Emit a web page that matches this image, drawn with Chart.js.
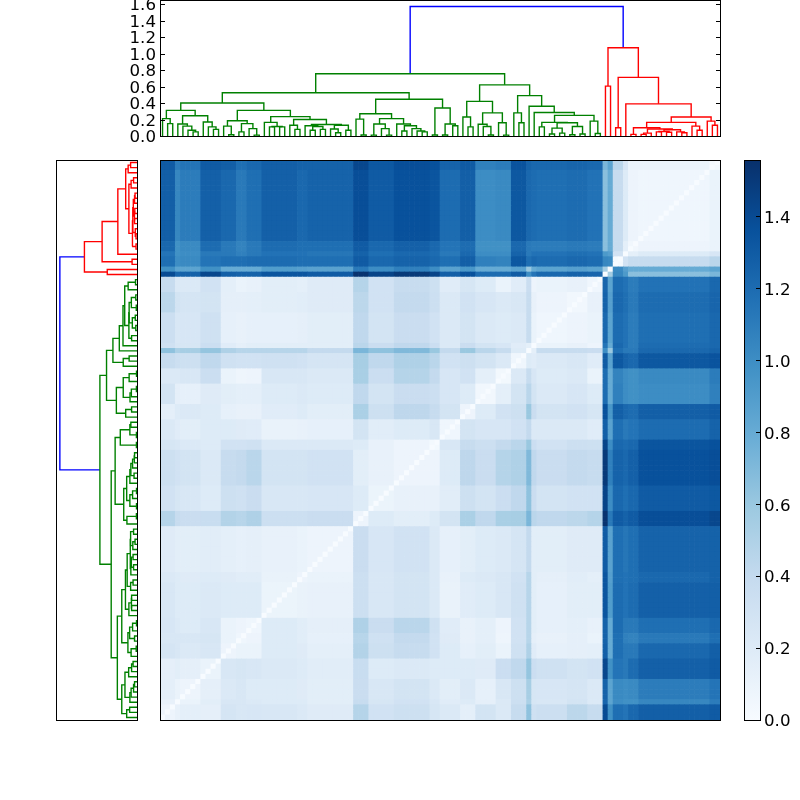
<!DOCTYPE html>
<html><head><meta charset="utf-8">
<style>
html,body{margin:0;padding:0;background:#fff;width:800px;height:800px;overflow:hidden}
.box{position:absolute}
canvas{display:block}
</style>
<script src="https://cdn.jsdelivr.net/npm/chart.js@4/dist/chart.umd.min.js"></script>
</head><body>
<div class="box" style="left:100px;top:-20px;width:625px;height:176px"><canvas id="top"></canvas></div>
<div class="box" style="left:50px;top:155px;width:92px;height:570px"><canvas id="left"></canvas></div>
<div class="box" style="left:155px;top:155px;width:570px;height:570px"><canvas id="heat"></canvas></div>
<div class="box" style="left:730px;top:140px;width:70px;height:600px"><canvas id="bar"></canvas></div>
<script>
// ---------- values ----------
const leafCount = 110;
const rootHeight = 1.57;
const heightAxisMax = 1.6485;
const heightTicks = [0, 0.2, 0.4, 0.6, 0.8, 1.0, 1.2, 1.4, 1.6];
const colorTicks = [0, 0.2, 0.4, 0.6, 0.8, 1.0, 1.2, 1.4];
const colorMax = 1.557;
const blues = ['#f7fbff','#deebf7','#c6dbef','#9ecae1','#6baed6','#4292c6','#2171b5','#08519c','#08306b'];

// merge trees: [height, left, right], 0 = a leaf
const greenTree = [.755,
 [.525,
  [.40,
   [.31,
    [.21,0,[.15,0,0]],
    [.245,[.145,0,[.12,0,[.07,0,[.05,0,0]]]],[.17,0,[.11,0,[.08,0,0]]]]],
   [.31,
    [.185,[.12,0,[.016,0,0]],[.15,[.05,0,0],[.09,0,[.01,0,0]]]],
    [.235,
     [.165,0,[.115,[.11,0,0],[.11,0,0]]],
     [.2,[.13,0,[.08,0,0]],
      [.14,[.125,0,[.115,[.07,0,0],[.08,0,0]]],[.13,[.085,0,[.04,0,0]],[.07,0,0]]]]]]],
  [.445,
   [.27,
    [.205,0,[.012,0,0]],
    [.21,
     [.145,[.01,0,0],[.09,0,[.01,0,0]]],
     [.145,0,[.125,[.06,0,0],[.09,0,[.06,0,[.05,0,0]]]]]]],
   [.34,[.012,0,0],[.145,[.012,0,0],[.125,0,0]]]]],
 [.62,
  [.42,
   [.23,0,[.11,0,0]],
   [.28,[.142,0,[.115,0,[.012,0,0]]],[.16,0,[.01,0,0]]]],
  [.49,
   [.28,0,[.16,0,0]],
   [.36,0,[.285,0,[.25,
     [.165,[.11,0,0],[.16,[.095,[.025,0,0],[.035,0,0]],[.115,[.015,0,0],[.025,0,0]]]],
     [.18,0,[.03,0,0]]]]]]]];
const redTree = [1.07,[.605,0,0],[.71,[.1,0,0],[.39,0,[.23,
  [.165,
   [.1,[.02,0,0],[.085,[.035,[.02,0,0],0],[.075,[.055,[.05,0,0],[.045,0,0]],[.05,0,[.04,0,0]]]]],
   [.12,0,[.07,0,0]]],
  [.18,0,[.13,0,0]]]]]];

// first leaf of each block of the distance matrix
const blockStarts = [0,3,4,8,12,15,17,20,27,29,38,41,46,53,55,59,62,66,69,72,73,74,80,84,87,88,89,91,92,94,108];
// block-to-block distances ×100, lower triangle
const blockDist = [
[8],
[12,5],
[15,10,8],
[14,16,14,10],
[27,24,22,24,8],
[24,24,24,26,10,6],
[25,22,20,24,10,8,6],
[24,20,20,22,20,20,20,9],
[22,20,19,20,19,17,17,11,8],
[19,16,16,17,15,13,14,12,10,8],
[47,38,36,37,48,46,50,34,34,36,8],
[30,26,24,20,33,32,36,24,24,25,20,9],
[33,30,28,22,38,40,45,28,28,30,16,12,8],
[26,24,22,20,30,30,32,22,22,22,20,12,8,3],
[22,18,16,20,20,19,18,11,12,13,28,17,20,24,6],
[15,20,22,20,13,12,12,18,20,16,52,33,43,38,28,8],
[28,14,13,19,16,15,15,20,22,20,42,28,36,34,25,20,5],
[22,22,24,35,10,7,8,24,24,22,53,35,47,40,25,30,15,4],
[38,34,33,42,32,30,30,32,30,27,54,42,50,45,30,33,28,22,6],
[64,52,54,62,50,46,46,46,46,40,72,64,70,60,40,60,45,38,20,0],
[32,26,26,35,18,14,16,16,16,16,45,36,42,35,22,36,28,25,18,15,3],
[34,24,25,32,13,12,13,13,14,16,42,28,36,30,22,28,22,20,22,38,10,6],
[44,28,27,28,14,14,15,16,17,19,44,30,40,34,22,30,25,22,24,38,12,8,5],
[38,22,22,30,15,10,12,16,15,19,47,30,38,33,18,26,20,10,18,36,8,10,12,6],
[140,124,126,142,128,126,126,134,134,130,154,144,150,144,128,136,120,120,130,100,115,122,126,124,0],
[98,85,85,98,80,80,80,90,88,86,112,100,108,100,86,94,80,80,86,60,80,85,88,85,55,0],
[118,100,102,115,118,118,120,120,118,118,130,122,125,122,118,128,108,106,132,118,122,120,122,120,104,102,3],
[115,98,100,112,112,108,112,116,116,114,126,118,122,120,112,122,100,100,125,112,116,116,118,116,92,88,30,0],
[122,98,102,120,112,106,112,120,118,118,130,122,127,122,115,120,98,98,122,112,110,110,112,110,66,80,38,15,5],
[128,104,110,127,122,112,118,127,122,125,138,130,136,134,120,128,100,102,132,122,120,118,120,116,66,80,38,20,8,6],
[130,110,115,130,128,118,122,128,126,126,142,132,138,136,125,130,108,110,135,125,122,122,124,122,72,85,45,25,10,10,3]
];

// ---------- helpers ----------
// small line height + a blank first line moves each tick label 2px down, as in the reference
const FONT = {family:'"DejaVu Sans"', size:16.67, lineHeight:'4px'};
const tickLabel = v => ['', v.toFixed(1)];
Chart.defaults.animation = false;
Chart.defaults.devicePixelRatio = 1;
Chart.defaults.responsive = true;
Chart.defaults.maintainAspectRatio = false;
Chart.defaults.plugins.legend.display = false;
Chart.defaults.plugins.tooltip.enabled = false;
Chart.defaults.color = '#000';

const framePlugin = {
  id:'frame',
  afterDraw(chart){
    const a = chart.chartArea, c = chart.ctx;
    c.save(); c.strokeStyle='#000'; c.lineWidth=1;
    c.strokeRect(a.left+.5, a.top+.5, a.right-a.left, a.bottom-a.top);
    const o = chart.options.plugins.frame || {};
    (o.ticks||[]).forEach(side=>{
      const s = chart.scales.y;
      s.ticks.forEach(t=>{
        const y = Math.round(s.getPixelForValue(t.value))+.5;
        c.beginPath();
        if(side==='left'){c.moveTo(a.left,y);c.lineTo(a.left+5,y);}
        else{c.moveTo(a.right,y);c.lineTo(a.right-4,y);}
        c.stroke();
      });
    });
    c.restore();
  }
};

function layoutTree(node, links, state){
  if(node===0){ const x = state.next + .5; state.next++; return {x, h:0}; }
  const L = layoutTree(node[1], links, state), R = layoutTree(node[2], links, state);
  links.push([L.x, L.h, R.x, R.h, node[0]]);
  return {x:(L.x+R.x)/2, h:node[0]};
}
const state = {next:0}, greenLinks = [], redLinks = [];
const gRoot = layoutTree(greenTree, greenLinks, state);
const rRoot = layoutTree(redTree, redLinks, state);
const blueLinks = [[gRoot.x, gRoot.h, rRoot.x, rRoot.h, rootHeight]];

function linkSets(toPoint){
  const make = (links,color)=>links.map(l=>({
    data:[toPoint(l[0],l[1]),toPoint(l[0],l[4]),toPoint(l[2],l[4]),toPoint(l[2],l[3])],
    borderColor:color, borderWidth:1.39, pointRadius:0, showLine:true, fill:false, tension:0,
    borderCapStyle:'butt', borderJoinStyle:'miter'
  }));
  return [...make(greenLinks,'#008000'),...make(redLinks,'#ff0000'),...make(blueLinks,'#0000ff')];
}

// ---------- top dendrogram ----------
new Chart(document.getElementById('top'),{
  type:'scatter',
  data:{datasets:linkSets((x,h)=>({x,y:h}))},
  options:{
    layout:{padding:{top:20,bottom:20,right:5,left:0}},
    plugins:{frame:{ticks:['left','right']}},
    scales:{
      x:{type:'linear',min:0,max:leafCount,display:false},
      y:{type:'linear',min:0,max:heightAxisMax,
        afterFit(s){s.width=60;},
        afterBuildTicks(s){s.ticks=heightTicks.map(v=>({value:v}));},
        grid:{display:false,drawTicks:false},border:{display:false},
        ticks:{font:FONT,color:'#000',padding:4,autoSkip:false,callback:tickLabel}}
    }
  },
  plugins:[framePlugin]
});

// ---------- left dendrogram ----------
new Chart(document.getElementById('left'),{
  type:'scatter',
  data:{datasets:linkSets((x,h)=>({x:h,y:x}))},
  options:{
    layout:{padding:{top:5,bottom:5,left:6,right:5}},
    scales:{
      x:{type:'linear',reverse:true,min:0,max:heightAxisMax,display:false},
      y:{type:'linear',min:0,max:leafCount,display:false}
    }
  },
  plugins:[framePlugin]
});

// ---------- heat map ----------
const leafBlock = Array.from({length:leafCount},(_,i)=>{
  let b = 0; blockStarts.forEach((s,k)=>{ if(i>=s) b = k; }); return b;
});
function cellValue(i,j){
  if(i===j) return 0;
  const a = leafBlock[i], b = leafBlock[j];
  return blockDist[Math.max(a,b)][Math.min(a,b)]/100;
}
function hexRgb(h){return [1,3,5].map(k=>parseInt(h.substr(k,2),16));}
const bluesRgb = blues.map(hexRgb);
function colorOf(v){
  const t = Math.min(Math.max(v/colorMax,0),1)*(blues.length-1);
  const k = Math.min(Math.floor(t),blues.length-2), f = t-k;
  const c = bluesRgb[k].map((u,n)=>Math.round(u+(bluesRgb[k+1][n]-u)*f));
  return `rgb(${c[0]},${c[1]},${c[2]})`;
}
const leaves = Array.from({length:leafCount},(_,i)=>i);
new Chart(document.getElementById('heat'),{
  type:'bar',
  data:{
    labels:leaves,
    datasets:leaves.map(j=>({
      data:leaves.map(()=>1),
      backgroundColor:leaves.map(i=>colorOf(cellValue(i,j))),
      borderWidth:0, barPercentage:1, categoryPercentage:1, stack:'m'
    }))
  },
  options:{
    layout:{padding:5},
    scales:{
      x:{type:'category',stacked:true,display:false},
      y:{type:'linear',stacked:true,min:0,max:leafCount,display:false}
    }
  },
  plugins:[framePlugin]
});

// ---------- colour bar ----------
new Chart(document.getElementById('bar'),{
  type:'bar',
  data:{
    labels:['colour'],
    datasets:[{
      data:[[0,colorMax]],
      barPercentage:1, categoryPercentage:1, borderWidth:0,
      backgroundColor(ctx){
        const a = ctx.chart.chartArea;
        if(!a) return blues[4];
        const g = ctx.chart.ctx.createLinearGradient(0,a.bottom,0,a.top);
        blues.forEach((c,i)=>g.addColorStop(i/(blues.length-1),c));
        return g;
      }
    }]
  },
  options:{
    layout:{padding:{left:14,top:20,bottom:20,right:0}},
    plugins:{frame:{ticks:['right']}},
    scales:{
      x:{type:'category',display:false},
      y:{type:'linear',position:'right',min:0,max:colorMax,
        afterFit(s){s.width=40;},
        afterBuildTicks(s){s.ticks=colorTicks.map(v=>({value:v}));},
        grid:{display:false,drawTicks:false},border:{display:false},
        ticks:{font:FONT,color:'#000',padding:4,autoSkip:false,callback:tickLabel}}
    }
  },
  plugins:[framePlugin]
});
</script>
</body></html>
